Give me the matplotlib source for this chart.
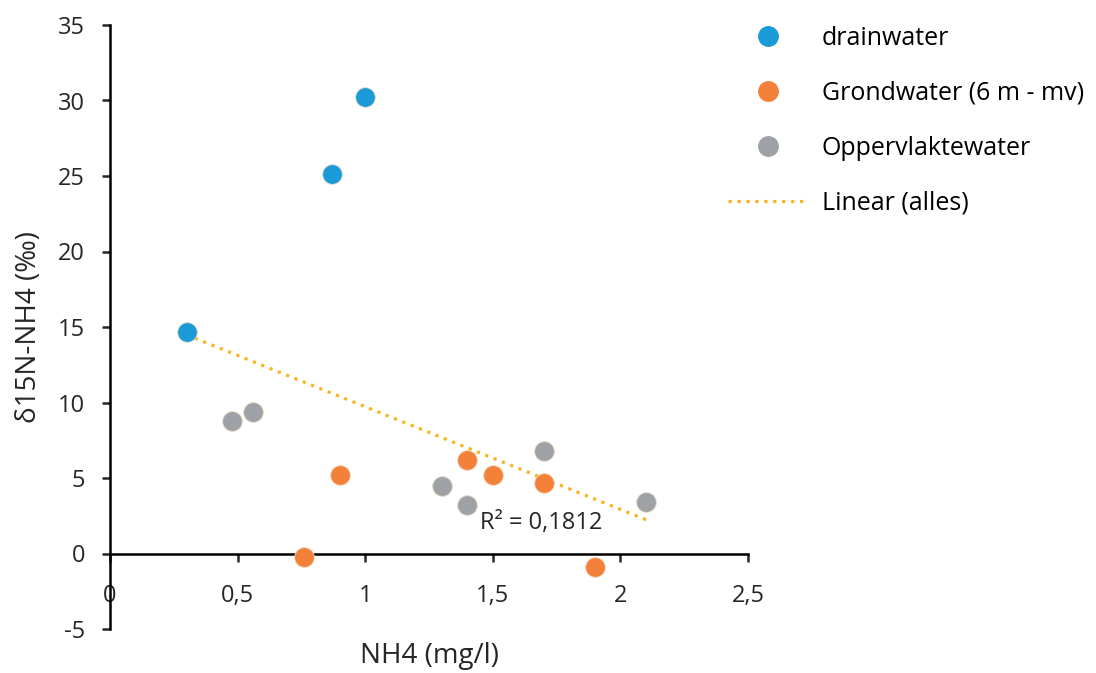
import numpy as np
import matplotlib
matplotlib.use("Agg")
import matplotlib.pyplot as plt
from matplotlib.lines import Line2D

plt.rcParams['font.family'] = ['Open Sans', 'DejaVu Sans']
plt.rcParams['axes.unicode_minus'] = False

# data
drain_x = [0.30, 0.87, 1.00]
drain_y = [14.7, 25.1, 30.2]
grond_x = [0.76, 0.90, 1.40, 1.50, 1.70, 1.90]
grond_y = [-0.2, 5.2, 6.2, 5.2, 4.7, -0.9]
opper_x = [0.48, 0.56, 1.30, 1.40, 1.70, 2.10]
opper_y = [8.8, 9.4, 4.5, 3.2, 6.8, 3.4]
r2_label = "R² = 0,1812"

blue = '#1A9BD7'
orange = '#F4813A'
grey = '#9EA2A6'
trend = '#F9B41E'
txt = '#262626'
fs = 17

fig = plt.figure(figsize=(10.96, 6.73), dpi=100)
ax = fig.add_axes([110 / 1096, 1 - 629 / 673, 638 / 1096, 604 / 673])

# trendline over all points
all_x = np.array(drain_x + grond_x + opper_x)
all_y = np.array(drain_y + grond_y + opper_y)
slope, icpt = np.polyfit(all_x, all_y, 1)
tx = np.array([all_x.min(), all_x.max()])
ax.plot(tx, slope * tx + icpt, color=trend, lw=2.3, linestyle=(0, (1, 1.8)), zorder=2)

ms = 200
ax.scatter(drain_x, drain_y, s=ms, color=blue, edgecolor='#E8E0CC', linewidth=0.6, zorder=3)
ax.scatter(grond_x, grond_y, s=ms, color=orange, edgecolor='#F2D7BF', linewidth=0.6, zorder=3)
ax.scatter(opper_x, opper_y, s=ms, color=grey, edgecolor='#E6D9C0', linewidth=0.6, zorder=3)

ax.text(1.45, 2.0, r2_label, fontsize=fs, va='center', ha='left', color=txt)

ax.set_xlim(0, 2.5)
ax.set_ylim(-5, 35)
ax.set_xticks([0, 0.5, 1, 1.5, 2, 2.5])
ax.set_xticklabels(['0', '0,5', '1', '1,5', '2', '2,5'])
ax.set_yticks(range(-5, 36, 5))

for s in ['top', 'right']:
    ax.spines[s].set_visible(False)
ax.spines['bottom'].set_position(('data', 0))
ax.spines['left'].set_linewidth(1.8)
ax.spines['bottom'].set_linewidth(1.8)
ax.tick_params(axis='both', direction='out', length=6, width=1.8, labelsize=fs, colors=txt)
ax.tick_params(axis='x', pad=16)
ax.tick_params(axis='y', pad=12)

ax.set_ylabel('δ15N-NH4 (‰)', fontsize=20, color=txt)
ax.yaxis.set_label_coords(-0.105, 0.5)
ax.set_xlabel('NH4 (mg/l)', fontsize=20, color=txt)
ax.xaxis.set_label_coords(0.5, -0.022)

handles = [
    Line2D([], [], marker='o', linestyle='none', markersize=14, color=blue),
    Line2D([], [], marker='o', linestyle='none', markersize=14, color=orange),
    Line2D([], [], marker='o', linestyle='none', markersize=14, color=grey),
    Line2D([], [], color=trend, lw=2.3, linestyle=(0, (1, 1.8))),
]
labels = ['drainwater', 'Grondwater (6 m - mv)', 'Oppervlaktewater', 'Linear (alles)']
fig.legend(handles, labels, loc='upper left', bbox_to_anchor=(728 / 1096, 1 - 26 / 673),
           frameon=False, fontsize=18, handlelength=3.2, handletextpad=0.55,
           labelspacing=1.2, borderpad=0, borderaxespad=0)

fig.savefig('out.png', dpi=100)
